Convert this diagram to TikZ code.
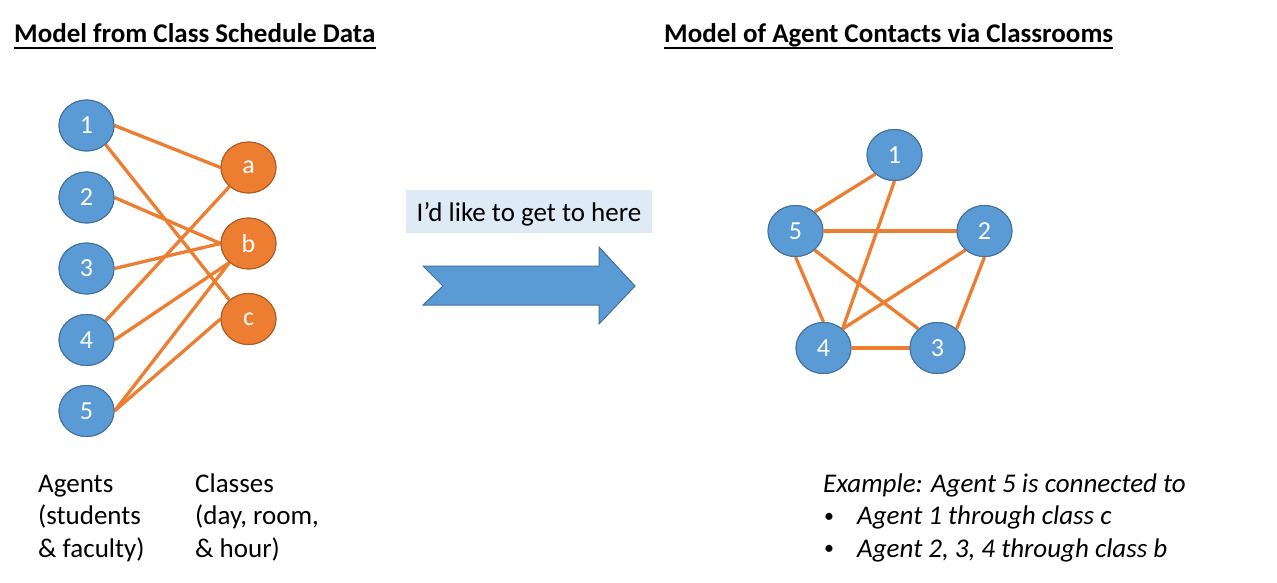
\documentclass[tikz,border=0pt]{standalone}
\usepackage{fontspec}
\setmainfont{Carlito}
\usetikzlibrary{shapes.geometric}
\definecolor{nblue}{HTML}{5B9BD5}
\definecolor{nbluedk}{HTML}{41719C}
\definecolor{norange}{HTML}{ED7D31}
\definecolor{norangedk}{HTML}{AE5A21}
\definecolor{boxblue}{HTML}{DEEBF7}
\begin{document}
\begin{tikzpicture}[x=1pt,y=-1pt,
  agent/.style={ellipse,draw=nbluedk,fill=nblue,line width=1pt,minimum width=55pt,minimum height=51pt,inner sep=0pt,text=white,font=\fontsize{26}{30}\selectfont},
  cls/.style={ellipse,draw=norangedk,fill=norange,line width=1pt,minimum width=55pt,minimum height=51pt,inner sep=0pt,text=white,font=\fontsize{26}{30}\selectfont},
  edge/.style={draw=norange,line width=3.3pt},
  txt/.style={anchor=base west,inner sep=0pt,font=\fontsize{27}{32}\selectfont},
  ttl/.style={anchor=base west,inner sep=0pt,font=\bfseries\fontsize{27}{32}\selectfont},
  ital/.style={anchor=base west,inner sep=0pt,font=\itshape\fontsize{27}{32}\selectfont},
  bul/.style={anchor=base west,inner sep=0pt,font=\fontsize{20}{32}\selectfont}]
\useasboundingbox (0,0) rectangle (1277,583);
% titles
\node[ttl] (t1) at (14,43) {Model from Class Schedule Data};
\draw[line width=2pt] ([yshift=-5pt]t1.base west) -- ([yshift=-5pt]t1.base east);
\node[ttl] (t2) at (664,43) {Model of Agent Contacts via Classrooms};
\draw[line width=2pt] ([yshift=-5pt]t2.base west) -- ([yshift=-5pt]t2.base east);
% left graph
\node[agent] (a1) at (86.5,125.5) {1};
\node[agent] (a2) at (86.5,197.5) {2};
\node[agent] (a3) at (86.5,268.5) {3};
\node[agent] (a4) at (86.5,340) {4};
\node[agent] (a5) at (86.5,411) {5};
\node[cls] (ca) at (248.5,167.5) {a};
\node[cls] (cb) at (248.5,243.5) {b};
\node[cls] (cc) at (248.5,319) {c};
\draw[edge] (a1.0) -- (ca.180);
\draw[edge] (a1.-45) -- (cc.135);
\draw[edge] (a2.0) -- (cb.180);
\draw[edge] (a3.0) -- (cb.180);
\draw[edge] (a4.45) -- (ca.225);
\draw[edge] (a4.0) -- (cb.225);
\draw[edge] (a5.0) -- (cb.225);
\draw[edge] (a5.0) -- (cc.180);
% redraw nodes on top
\node[agent] at (a1) {1};
\node[agent] at (a2) {2};
\node[agent] at (a3) {3};
\node[agent] at (a4) {4};
\node[agent] at (a5) {5};
\node[cls] at (ca) {a};
\node[cls] at (cb) {b};
\node[cls] at (cc) {c};
% labels
\node[txt] (l1) at (38,492) {Agents};
\node[txt] (l2) at (38,524.5) {(students};
\node[txt] (l3) at (38,557) {\& faculty)};
\node[txt] (m1) at (195,492) {Classes};
\node[txt] (m2) at (195,524.5) {(day, room,};
\node[txt] (m3) at (195,557) {\& hour)};
% middle box and arrow
\node[fill=boxblue,minimum width=246pt,minimum height=43pt,inner sep=0pt,text height=19pt,text depth=0pt,font=\fontsize{27}{32}\selectfont] (lbl) at (529,211.5) {I’d like to get to here};
\draw[fill=nblue,draw=nbluedk,line width=1pt] (423,266) -- (599,266) -- (599,247) -- (635,286) -- (599,324) -- (599,305) -- (423,305) -- (443,286) -- cycle;
% right graph
\node[agent] (r1) at (894.5,155) {1};
\node[agent] (r5) at (795.5,231) {5};
\node[agent] (r2) at (984.5,231) {2};
\node[agent] (r4) at (823.5,348) {4};
\node[agent] (r3) at (937.5,348) {3};
\draw[edge] (r5.45) -- (r1.225);
\draw[edge] (r5.0) -- (r2.180);
\draw[edge] (r1.-90) -- (r4.45);
\draw[edge] (r5.-90) -- (r4.90);
\draw[edge] (r5.-45) -- (r3.135);
\draw[edge] (r2.225) -- (r4.45);
\draw[edge] (r2.-90) -- (r3.45);
\draw[edge] (r4.0) -- (r3.180);
\node[agent] at (r1) {1};
\node[agent] at (r5) {5};
\node[agent] at (r2) {2};
\node[agent] at (r4) {4};
\node[agent] at (r3) {3};
% example text
\node[ital] (e1) at (823,492) {Example: Agent 5 is connected to};
\node[bul] (b1) at (824,522) {•};
\node[ital] (e2) at (857,524.5) {Agent 1 through class c};
\node[bul] (b2) at (824,554.5) {•};
\node[ital] (e3) at (857,557) {Agent 2, 3, 4 through class b};
\end{tikzpicture}
\end{document}
